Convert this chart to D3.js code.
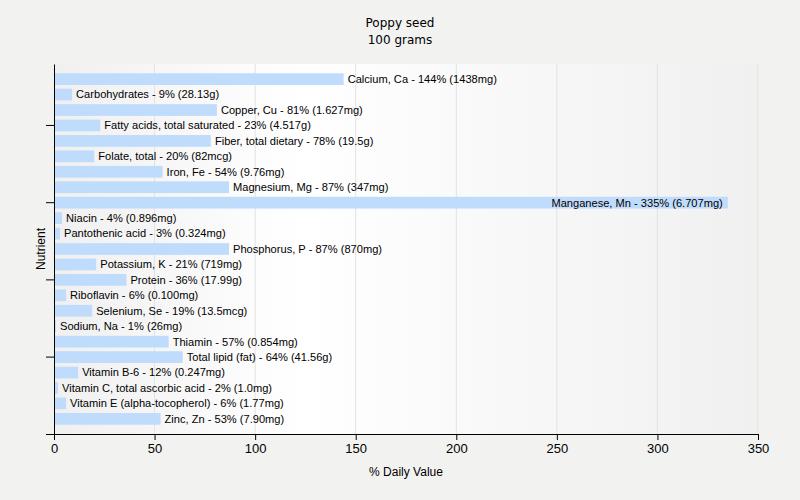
<!DOCTYPE html>
<html lang="en">
<head>
    <meta charset="UTF-8">
    <title>Poppy seed</title>
    <style>
        body {
            margin: 0;
            background-color: #f2f2f1;
        }
        svg {
            display: block;
            background-color: #f2f2f1;
        }
        text {
            font-family: "Liberation Sans", Arial, sans-serif;
            fill: #000;
        }
        .title {
            font-family: "DejaVu Sans", Verdana, sans-serif;
            font-size: 12px;
        }
        .bar-label {
            font-size: 11.1px;
        }
        .axis text {
            font-size: 13px;
        }
        .axis path, .axis line {
            stroke: #000;
        }
    </style>
</head>
<body>
    <script src="https://d3js.org/d3.v7.min.js"></script>
    <script>
        const width = 800;
        const height = 500;
        const margin = { top: 64, right: 42, bottom: 66, left: 54 };

        const nutrients = [
            "Calcium, Ca", "Carbohydrates", "Copper, Cu", "Fatty acids, total saturated",
            "Fiber, total dietary", "Folate, total", "Iron, Fe", "Magnesium, Mg",
            "Manganese, Mn", "Niacin", "Pantothenic acid", "Phosphorus, P",
            "Potassium, K", "Protein", "Riboflavin", "Selenium, Se", "Sodium, Na",
            "Thiamin", "Total lipid (fat)", "Vitamin B-6", "Vitamin C, total ascorbic acid",
            "Vitamin E (alpha-tocopherol)", "Zinc, Zn"
        ];
        const dailyValues = [144, 9, 81, 23, 78, 20, 54, 87, 335, 4, 3, 87, 21, 36, 6, 19, 1, 57, 64, 12, 2, 6, 53];
        const amounts = [
            "1438mg", "28.13g", "1.627mg", "4.517g", "19.5g", "82mcg", "9.76mg", "347mg",
            "6.707mg", "0.896mg", "0.324mg", "870mg", "719mg", "17.99g", "0.100mg", "13.5mcg",
            "26mg", "0.854mg", "41.56g", "0.247mg", "1.0mg", "1.77mg", "7.90mg"
        ];
        const xTicks = [0, 50, 100, 150, 200, 250, 300, 350];
        const yTickNames = ["Fatty acids, total saturated", "Manganese, Mn", "Protein", "Total lipid (fat)"];

        const data = nutrients.map((n, i) => ({ name: n, value: dailyValues[i], amount: amounts[i] }));

        const svg = d3.select("body")
            .append("svg")
            .attr("width", width)
            .attr("height", height);

        const plotW = width - margin.left - margin.right;
        const plotH = height - margin.top - margin.bottom;

        const x = d3.scaleLinear()
            .domain([0, 350])
            .range([margin.left, margin.left + plotW]);

        const y = d3.scaleBand()
            .domain(nutrients)
            .range([margin.top, margin.top + plotH])
            .paddingInner(0.24)
            .paddingOuter(0.6);

        // plot background gradient
        const grad = svg.append("defs")
            .append("linearGradient")
            .attr("id", "bg")
            .attr("x1", "0%").attr("x2", "100%")
            .attr("y1", "0%").attr("y2", "0%");
        grad.append("stop").attr("offset", "0%").attr("stop-color", "#f0f0f0");
        grad.append("stop").attr("offset", "35%").attr("stop-color", "#ffffff");
        grad.append("stop").attr("offset", "100%").attr("stop-color", "#f0f0f0");

        svg.append("rect")
            .attr("x", margin.left)
            .attr("y", margin.top)
            .attr("width", plotW)
            .attr("height", plotH)
            .attr("fill", "url(#bg)");

        // vertical grid lines
        svg.selectAll(".grid")
            .data(xTicks.slice(1))
            .enter()
            .append("line")
            .attr("class", "grid")
            .attr("x1", d => x(d))
            .attr("x2", d => x(d))
            .attr("y1", margin.top)
            .attr("y2", margin.top + plotH)
            .attr("stroke", "#e2e2e2")
            .attr("stroke-width", 1);

        // bars
        svg.selectAll(".bar")
            .data(data)
            .enter()
            .append("rect")
            .attr("class", "bar")
            .attr("x", x(0))
            .attr("y", d => y(d.name))
            .attr("width", d => x(d.value) - x(0))
            .attr("height", y.bandwidth())
            .attr("fill", "#c0dcfc");

        // bar labels
        svg.selectAll(".bar-label")
            .data(data)
            .enter()
            .append("text")
            .attr("class", "bar-label")
            .attr("x", d => d.value > 300 ? x(d.value) - 5 : x(d.value) + 4)
            .attr("y", d => y(d.name) + y.bandwidth() / 2)
            .attr("dy", "0.35em")
            .attr("text-anchor", d => d.value > 300 ? "end" : "start")
            .text(d => `${d.name} - ${d.value}% (${d.amount})`);

        // x axis
        const xAxis = svg.append("g")
            .attr("class", "axis")
            .attr("transform", `translate(0,${margin.top + plotH})`)
            .call(d3.axisBottom(x).tickValues(xTicks).tickSize(6).tickSizeOuter(0).tickPadding(4));
        xAxis.select(".domain")
            .attr("d", `M${margin.left - 8},0.5H${margin.left + plotW}`);

        // y axis
        svg.append("g")
            .attr("class", "axis")
            .attr("transform", `translate(${margin.left},0)`)
            .call(d3.axisLeft(y).tickValues(yTickNames).tickFormat("").tickSize(8).tickSizeOuter(0));

        // titles
        svg.append("text")
            .attr("class", "title")
            .attr("x", width / 2)
            .attr("y", 27)
            .attr("text-anchor", "middle")
            .text("Poppy seed");
        svg.append("text")
            .attr("class", "title")
            .attr("x", width / 2)
            .attr("y", 44)
            .attr("text-anchor", "middle")
            .text("100 grams");

        svg.append("text")
            .attr("x", margin.left + plotW / 2)
            .attr("y", 476)
            .attr("text-anchor", "middle")
            .style("font-size", "12px")
            .text("% Daily Value");

        svg.append("text")
            .attr("transform", `translate(45,${margin.top + plotH / 2}) rotate(-90)`)
            .attr("text-anchor", "middle")
            .style("font-size", "12px")
            .text("Nutrient");
    </script>
</body>
</html>
